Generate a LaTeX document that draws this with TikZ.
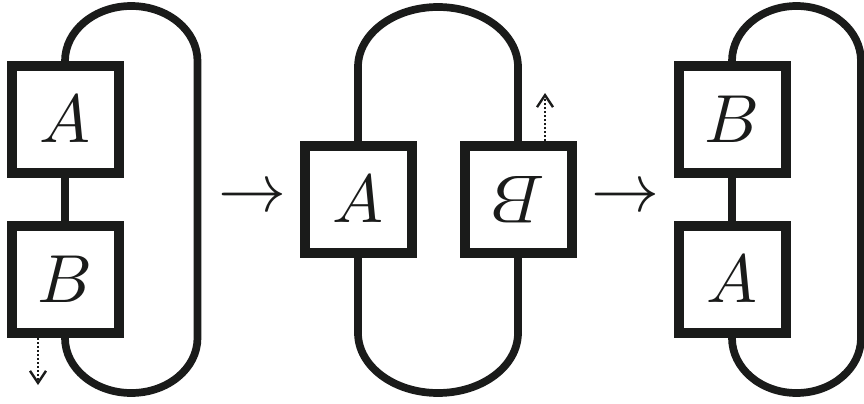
\documentclass[tikz,border=0pt]{standalone}
\usepackage{graphicx}
\usetikzlibrary{arrows.meta}
\definecolor{ink}{RGB}{26,27,26}
\newcommand{\biglabel}[1]{\scalebox{3.4}{$#1$}}
\tikzset{%
	tensor box/.style={
		draw=ink,
		fill=white,
		text=ink,
		line width=5pt,
		minimum size=53.5pt,
		inner sep=0pt
	},
	wire/.style={
		draw=ink,
		line width=3.85pt
	},
	hint/.style={
		draw=ink,
		line width=1.2pt,
		dash pattern=on 1.1pt off 0.9pt,
		-{Straight Barb[length=6pt,width=8pt]}
	},
}
\begin{document}
\begin{tikzpicture}[x=0.5pt,y=0.5pt]
	\useasboundingbox (0,0) rectangle (864,403);
	% Draw the first diagram
	\node[tensor box] (A1) at (65,283.5) {\biglabel{A}};
	\node[tensor box] (B1) at (65,123.5) {\biglabel{B}};
	\draw[wire] (A1.south) -- (B1.north);
	\draw[wire] (A1.north) arc[start angle=180, end angle=0, x radius=66.25, y radius=55] coordinate (r1)
		-- (r1 |- B1.south) arc[start angle=0, end angle=-180, x radius=66.25, y radius=55];
	\coordinate (d1) at (38,18);
	\draw[hint] (d1 |- B1.south) -- (d1);
	
	\node[text=ink] (arr1) at (252,204) {\biglabel{\rightarrow}};
	
	% Draw the second diagram
	\node[tensor box] (A2) at (358,203.5) {\biglabel{A}};
	\node[tensor box, rotate=180] (B2) at (518,203.5) {\biglabel{B}};
	\draw[wire] (A2.north) -- ++(0,74) arc[start angle=180, end angle=0, x radius=80, y radius=60]
		-- (A2.north -| B2);
	\draw[wire] (A2.south) -- ++(0,-75) arc[start angle=180, end angle=360, x radius=80, y radius=60]
		-- (A2.south -| B2);
	\coordinate (d2) at (545,310);
	\draw[hint] (d2 |- A2.north) -- (d2);
	
	\node[text=ink] (arr2) at (625,204) {\biglabel{\rightarrow}};
	
	% Draw the third diagram
	\node[tensor box] (B3) at (732,283.5) {\biglabel{B}};
	\node[tensor box] (A3) at (732,123.5) {\biglabel{A}};
	\draw[wire] (B3.south) -- (A3.north);
	\draw[wire] (B3.north) arc[start angle=180, end angle=0, x radius=64.5, y radius=55] coordinate (r3)
		-- (r3 |- A3.south) arc[start angle=0, end angle=-180, x radius=64.5, y radius=55];
	
\end{tikzpicture}
\end{document}
